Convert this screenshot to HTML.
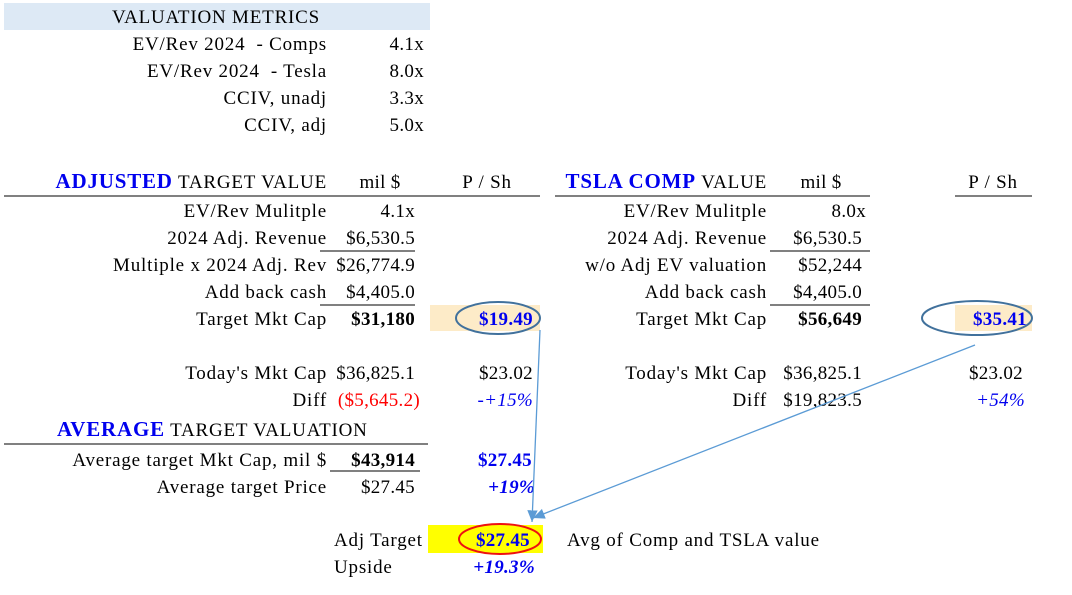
<!DOCTYPE html>
<html><head><meta charset="utf-8"><style>
html,body{margin:0;padding:0;background:#fff;}
svg{display:block;font-family:"Liberation Serif",serif;font-size:19px;letter-spacing:0.3px;}
.r{text-anchor:end}.b{font-weight:bold}.bl{fill:#0000ee}.i{font-style:italic}.l{letter-spacing:0.8px}
</style></head><body>
<svg width="1072" height="595">
<defs><marker id="ah" markerWidth="10" markerHeight="10" refX="9" refY="5" orient="auto"><path d="M0,1 L9,5 L0,9 z" fill="#5b9bd5"/></marker></defs>
<rect x="4" y="3" width="426" height="27" fill="#dde9f5"/>
<text class="l" x="112" y="23">VALUATION METRICS</text>
<g>
<text class="r l" x="327" y="50" xml:space="preserve">EV/Rev 2024  - Comps</text><text class="r" x="424" y="50">4.1x</text>
<text class="r l" x="327" y="77" xml:space="preserve">EV/Rev 2024  - Tesla</text><text class="r" x="424" y="77">8.0x</text>
<text class="r l" x="327" y="104">CCIV, unadj</text><text class="r" x="424" y="104">3.3x</text>
<text class="r l" x="327" y="131">CCIV, adj</text><text class="r" x="424" y="131">5.0x</text>
</g>
<rect x="430" y="305" width="110" height="26" fill="#fdebc8"/>
<rect x="955" y="305" width="77" height="26" fill="#fdebc8"/>
<rect x="428" y="525" width="115" height="28" fill="#ffff00"/>
<g>
<text class="r l" x="327" y="188"><tspan class="b bl" style="font-size:21px">ADJUSTED</tspan> TARGET VALUE</text>
<text x="380" y="188" text-anchor="middle">mil $</text>
<text class="l" x="487" y="188" text-anchor="middle">P / Sh</text>
<line x1="4" y1="196" x2="540" y2="196" stroke="#000"/>
<text class="r l" x="327" y="217">EV/Rev Mulitple</text><text class="r" x="415" y="217">4.1x</text>
<text class="r l" x="327" y="244">2024 Adj. Revenue</text><text class="r" x="415" y="244">$6,530.5</text>
<line x1="320" y1="251" x2="415" y2="251" stroke="#000"/>
<text class="r l" x="327" y="271">Multiple x 2024 Adj. Rev</text><text class="r" x="415" y="271">$26,774.9</text>
<text class="r l" x="327" y="298">Add back cash</text><text class="r" x="415" y="298">$4,405.0</text>
<line x1="320" y1="305" x2="415" y2="305" stroke="#000"/>
<text class="r l" x="327" y="325">Target Mkt Cap</text><text class="r b" x="415" y="325">$31,180</text>
<text class="r b bl" x="533" y="325">$19.49</text>
<text class="r l" x="327" y="379">Today's Mkt Cap</text><text class="r" x="415" y="379">$36,825.1</text><text class="r" x="533" y="379">$23.02</text>
<text class="r l" x="327" y="406">Diff</text><text class="r" x="420" y="406" fill="#ff0000">($5,645.2)</text><text class="r i bl" x="533" y="406">-+15%</text>
</g>
<ellipse cx="498" cy="318" rx="42" ry="16" fill="none" stroke="#41719c" stroke-width="2"/>
<g>
<text class="r l" x="767" y="188"><tspan class="b bl" style="font-size:21px">TSLA COMP</tspan> VALUE</text>
<text x="821" y="188" text-anchor="middle">mil $</text>
<text class="l" x="993" y="188" text-anchor="middle">P / Sh</text>
<line x1="555" y1="196" x2="870" y2="196" stroke="#000"/>
<line x1="955" y1="196" x2="1032" y2="196" stroke="#000"/>
<text class="r l" x="767" y="217">EV/Rev Mulitple</text><text class="r" x="866" y="217">8.0x</text>
<text class="r l" x="767" y="244">2024 Adj. Revenue</text><text class="r" x="862" y="244">$6,530.5</text>
<line x1="770" y1="251" x2="870" y2="251" stroke="#000"/>
<text class="r l" x="767" y="271">w/o Adj EV valuation</text><text class="r" x="862" y="271">$52,244</text>
<text class="r l" x="767" y="298">Add back cash</text><text class="r" x="862" y="298">$4,405.0</text>
<line x1="770" y1="305" x2="870" y2="305" stroke="#000"/>
<text class="r l" x="767" y="325">Target Mkt Cap</text><text class="r b" x="862" y="325">$56,649</text>
<text class="r b bl" x="1027" y="325">$35.41</text>
<text class="r l" x="767" y="379">Today's Mkt Cap</text><text class="r" x="862" y="379">$36,825.1</text><text class="r" x="1023" y="379">$23.02</text>
<text class="r l" x="767" y="406">Diff</text><text class="r" x="862" y="406">$19,823.5</text><text class="r i bl" x="1025" y="406">+54%</text>
</g>
<ellipse cx="977" cy="318" rx="55" ry="17" fill="none" stroke="#41719c" stroke-width="2"/>
<g>
<text class="l" x="57" y="436"><tspan class="b bl" style="font-size:21px">AVERAGE</tspan> TARGET VALUATION</text>
<line x1="4" y1="444" x2="428" y2="444" stroke="#000"/>
<text class="r l" x="327" y="466">Average target Mkt Cap, mil $</text><text class="r b" x="415" y="466">$43,914</text><text class="r b bl" x="532" y="466">$27.45</text>
<line x1="330" y1="471" x2="420" y2="471" stroke="#000"/>
<text class="r l" x="327" y="493">Average target Price</text><text class="r" x="415" y="493">$27.45</text><text class="r i b bl" x="535" y="493">+19%</text>
</g>
<g>
<text class="l" x="334" y="546">Adj Target</text>
<text class="r b bl" x="530" y="546">$27.45</text>
<text class="l" x="567" y="546">Avg of Comp and TSLA value</text>
<text class="l" x="334" y="573">Upside</text>
<text class="r i b bl" x="535" y="573">+19.3%</text>
</g>
<ellipse cx="500" cy="539" rx="41" ry="15" fill="none" stroke="#ee1111" stroke-width="2"/>
<line x1="540" y1="330" x2="532" y2="522" stroke="#5b9bd5" stroke-width="1.3" marker-end="url(#ah)"/>
<line x1="975" y1="345" x2="533" y2="518" stroke="#5b9bd5" stroke-width="1.3" marker-end="url(#ah)"/>
</svg>
</body></html>
